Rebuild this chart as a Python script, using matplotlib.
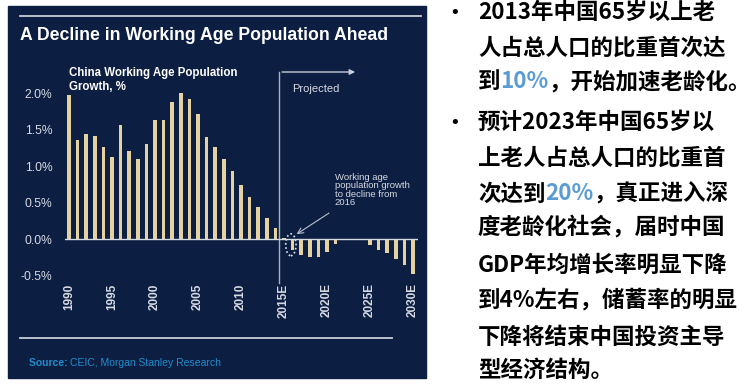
import matplotlib
matplotlib.use("Agg")
import matplotlib.pyplot as plt
from matplotlib.patches import Rectangle, Ellipse
from matplotlib.lines import Line2D

# данные
years = list(range(1990, 2031))
growth = [1.98, 1.36, 1.44, 1.41, 1.27, 1.13, 1.57, 1.21, 1.10, 1.31,
          1.64, 1.63, 1.88, 2.00, 1.92, 1.71, 1.40, 1.27, 1.10, 0.93,
          0.75, 0.58, 0.44, 0.29, 0.15,
          0.02, -0.14, -0.21, -0.24, -0.24, -0.17, -0.06, -0.01, 0.00, -0.01,
          -0.08, -0.15, -0.19, -0.27, -0.35, -0.47]
tick_years = [1990, 1995, 2000, 2005, 2010, 2015, 2020, 2025, 2030]
tick_labels = ["1990", "1995", "2000", "2005", "2010", "2015E", "2020E", "2025E", "2030E"]
y_ticks = [-0.5, 0.0, 0.5, 1.0, 1.5, 2.0]
y_labels = ["-0.5%", "0.0%", "0.5%", "1.0%", "1.5%", "2.0%"]

W, H = 750, 386
NAVY = "#0c1e42"
BAR = "#e6d2a0"
LIGHT = "#d6dae2"

plt.rcParams['font.family'] = ['Liberation Sans', 'DejaVu Sans']

fig = plt.figure(figsize=(W / 100, H / 100), dpi=100)
fig.patch.set_facecolor("white")
renderer = fig.canvas.get_renderer()


def fx(px):
    return px / W


def fy(py):
    return 1 - py / H


# тёмная панель
fig.patches.append(Rectangle((fx(8), fy(378)), fx(426) - fx(8), fy(6) - fy(378),
                             transform=fig.transFigure, color=NAVY, zorder=-5))
fig.lines.append(Line2D([fx(20), fx(421)], [fy(16), fy(16)], transform=fig.transFigure,
                        color="#c8ccd6", lw=1.3, zorder=-4))
fig.lines.append(Line2D([fx(20), fx(392)], [fy(338), fy(338)], transform=fig.transFigure,
                        color="#c8ccd6", lw=1.3, zorder=-4))

fig.text(fx(20), fy(35), "A Decline in Working Age Population Ahead", color="white",
         fontsize=12.7, fontweight="bold", va="center", ha="left")
fig.text(fx(69), fy(80), "China Working Age Population\nGrowth, %", color="white",
         fontsize=8.3, fontweight="bold", va="center", ha="left", linespacing=1.3)
t = fig.text(fx(29), fy(363), "Source: ", color="#1f8fcf", fontsize=7.5, fontweight="bold",
             va="center", ha="left")
sx = 29 + t.get_window_extent(renderer=renderer).width
fig.text(fx(sx), fy(363), "CEIC, Morgan Stanley Research", color="#1f8fcf", fontsize=7.5,
         va="center", ha="left")

# оси графика
ax_l, ax_r, ax_t, ax_b = 65, 418, 85, 282
ax = fig.add_axes([fx(ax_l), fy(ax_b), fx(ax_r) - fx(ax_l), fy(ax_t) - fy(ax_b)])
ax.set_facecolor("none")
ppy = 8.6
x0 = 1990 - (69 - ax_l) / ppy
x1 = 1990 + (ax_r - 69) / ppy
ppv = 73.0
ax.set_xlim(x0, x1)
ax.set_ylim((239.3 - ax_b) / ppv, (239.3 - ax_t) / ppv)

ax.bar(years, growth, width=0.4, color=BAR, zorder=2)
ax.axhline(0, color=LIGHT, lw=1, zorder=3)

for s in ax.spines.values():
    s.set_visible(False)
ax.set_xticks(tick_years)
ax.set_xticklabels(tick_labels, rotation=90, fontsize=8.5, fontweight="bold", color=LIGHT,
                   va="top")
ax.set_yticks(y_ticks)
ax.set_yticklabels(y_labels, fontsize=8.7, color=LIGHT)
ax.tick_params(axis="both", length=0)
ax.tick_params(axis="y", pad=9)
ax.tick_params(axis="x", pad=1)

# линия прогноза
xl = 2014.45
ytop = (239.3 - 72) / ppv
ax.plot([xl, xl], [ytop, (239.3 - 283) / ppv], color="#aab2c2", lw=1, clip_on=False, zorder=1)
ax.annotate("", xy=(2023.6, ytop), xytext=(xl, ytop), annotation_clip=False,
            arrowprops=dict(arrowstyle="-|>", color="#c8ccd6", lw=1, mutation_scale=8))
ax.text(2016.0, (239.3 - 89) / ppv, "Projected", color=LIGHT, fontsize=8, va="center",
        ha="left")

# пояснение
ax.add_patch(Ellipse((2015.8, -0.075), 1.2, 0.30, fill=False, ec="#e0e4ea", lw=1.2,
                     ls=(0, (1, 1.5)), zorder=4))
ax.annotate("", xy=(2016.2, 0.05), xytext=(2020.5, 0.38),
            arrowprops=dict(arrowstyle="->", color="#b8c0ce", lw=0.8))
ax.text(2020.9, (239.3 - 173) / ppv, "Working age\npopulation growth\nto decline from\n2016",
        color=LIGHT, fontsize=6.8, va="top", ha="left", linespacing=0.9)

# текст справа
cjk = ['Noto Sans CJK SC', 'DejaVu Sans']
BLUE = "#5b9bd5"


def line(x, y, parts):
    for s, c in parts:
        t = fig.text(fx(x), fy(y), s, color=c, fontsize=16.2, fontweight="heavy",
                     family=cjk, va="center", ha="left")
        x += t.get_window_extent(renderer=renderer).width


fig.text(fx(455), fy(13), "•", color="black", fontsize=13, va="center", ha="center",
         family=['DejaVu Sans'])
fig.text(fx(455), fy(123), "•", color="black", fontsize=13, va="center", ha="center",
         family=['DejaVu Sans'])

K = "black"
lx = 478
line(lx, 12, [("2013年中国65岁以上老", K)])
line(lx, 48, [("人占总人口的比重首次达", K)])
line(lx, 82, [("到", K), ("10%", BLUE), ("，开始加速老龄化。", K)])
line(lx, 122, [("预计2023年中国65岁以", K)])
line(lx, 158, [("上老人占总人口的比重首", K)])
line(lx, 194, [("次达到", K), ("20%", BLUE), ("，真正进入深", K)])
line(lx, 228, [("度老龄化社会，届时中国", K)])
line(lx, 265, [("GDP年均增长率明显下降", K)])
line(lx, 300, [("到4%左右，储蓄率的明显", K)])
line(lx, 337, [("下降将结束中国投资主导", K)])
line(lx, 370, [("型经济结构。", K)])

fig.savefig("out.png", dpi=100, facecolor="white")
